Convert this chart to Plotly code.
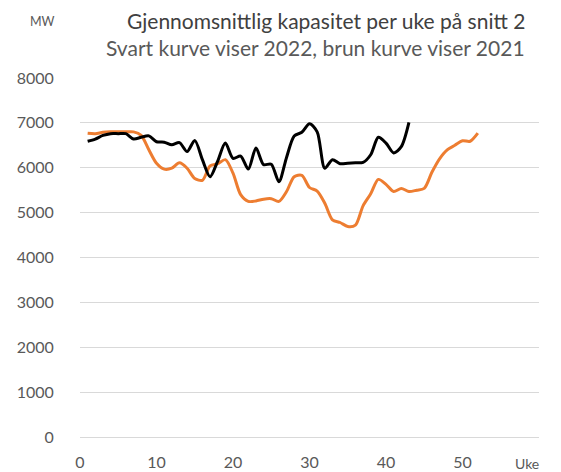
import plotly.graph_objects as go

# Week numbers
weeks_2022 = list(range(1, 44))
weeks_2021 = list(range(1, 53))

# Average capacity per week (MW)
cap_2022 = [6590, 6640, 6720, 6760, 6760, 6760, 6640, 6680, 6710, 6580,
            6570, 6510, 6560, 6360, 6610, 6180, 5800, 6150, 6550, 6210,
            6260, 5970, 6440, 6070, 6080, 5690, 6230, 6710, 6790, 6980,
            6800, 5990, 6180, 6090, 6100, 6110, 6120, 6290, 6680, 6550,
            6330, 6470, 7010]

cap_2021 = [6770, 6760, 6790, 6800, 6800, 6800, 6800, 6720, 6400, 6100,
            5970, 5990, 6110, 5990, 5760, 5720, 6040, 6090, 6180, 5880,
            5400, 5250, 5260, 5300, 5310, 5250, 5470, 5800, 5830, 5560,
            5480, 5210, 4840, 4780, 4690, 4720, 5150, 5420, 5740, 5630,
            5470, 5540, 5470, 5500, 5540, 5900, 6200, 6400, 6500, 6600,
            6590, 6770]

x_ticks = [0, 10, 20, 30, 40, 50]
y_ticks = [0, 1000, 2000, 3000, 4000, 5000, 6000, 7000, 8000]

FONT = "Lato"
GRAY = "#595959"
OFF = 8  # default page margin of the browser
W, H = 561 - OFF, 472 - OFF
L, T = 80 - OFF, 78 - OFF
PW, PH = 459, 359
R, B = W - L - PW, H - T - PH


def px(x):
    return (x - OFF - L) / PW


def py(y):
    return 1 - (y - OFF - T) / PH


fig = go.Figure()
fig.add_trace(go.Scatter(x=weeks_2021, y=cap_2021, mode="lines",
                         line=dict(color="#ED7D31", width=3, shape="spline", smoothing=0.8),
                         name="2021", hoverinfo="x+y"))
fig.add_trace(go.Scatter(x=weeks_2022, y=cap_2022, mode="lines",
                         line=dict(color="#000000", width=3, shape="spline", smoothing=0.8),
                         name="2022", hoverinfo="x+y"))

fig.update_layout(
    width=W, height=H,
    margin=dict(l=L, r=R, t=T, b=B, pad=0, autoexpand=False),
    paper_bgcolor="white", plot_bgcolor="white",
    showlegend=False,
    font=dict(family=FONT, color=GRAY),
    xaxis=dict(range=[0, 60], tickvals=x_ticks, showgrid=False, zeroline=False,
               showline=False, ticks="outside", ticklen=11, tickcolor="rgba(0,0,0,0)",
               automargin=False,
               tickfont=dict(family=FONT, size=16, color=GRAY)),
    yaxis=dict(range=[0, 8000], tickvals=y_ticks, showgrid=True, gridcolor="#d9d9d9",
               gridwidth=1, zeroline=True, zerolinecolor="#d9d9d9", zerolinewidth=1,
               showline=False, ticks="outside", ticklen=22, tickcolor="rgba(0,0,0,0)",
               automargin=False,
               tickfont=dict(family=FONT, size=16, color=GRAY)),
    annotations=[
        dict(text="Gjennomsnittlig kapasitet per uke på snitt 2", xref="paper", yref="paper",
             x=px(527), y=py(21), xanchor="right", yanchor="middle",
             showarrow=False, font=dict(family=FONT, size=21, color="#404040")),
        dict(text="Svart kurve viser 2022, brun kurve viser 2021", xref="paper", yref="paper",
             x=px(527), y=py(48), xanchor="right", yanchor="middle",
             showarrow=False, font=dict(family=FONT, size=21, color=GRAY)),
        dict(text="MW", xref="paper", yref="paper",
             x=px(42), y=py(22), xanchor="center", yanchor="middle",
             showarrow=False, font=dict(family=FONT, size=12.5, color=GRAY)),
        dict(text="Uke", xref="paper", yref="paper",
             x=px(527), y=py(463), xanchor="center", yanchor="middle",
             showarrow=False, font=dict(family=FONT, size=14, color=GRAY)),
    ],
)

fig.write_html("out.html")
